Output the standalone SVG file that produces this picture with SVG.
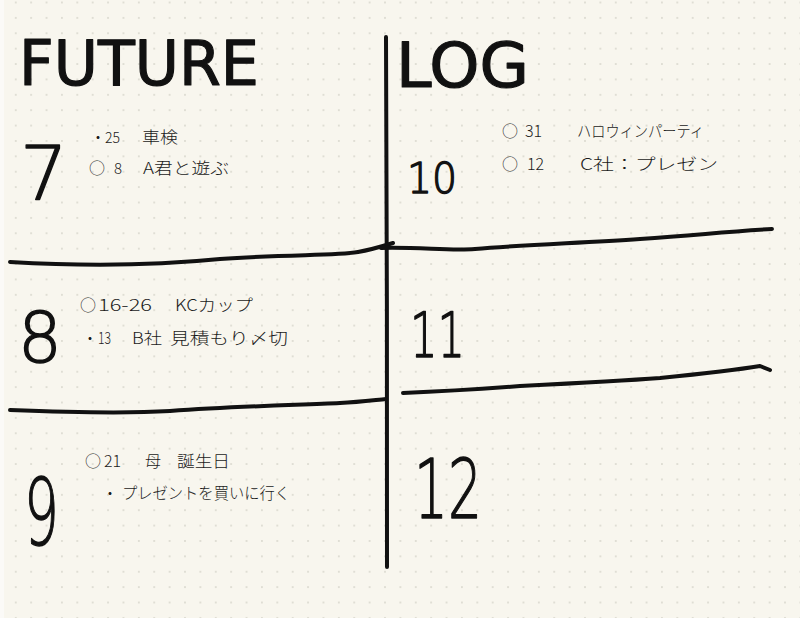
<svg xmlns="http://www.w3.org/2000/svg" width="800" height="618" viewBox="0 0 800 618">
<defs>
<pattern id="dots" patternUnits="userSpaceOnUse" x="-7.3" y="-5.2" width="15.385" height="15.385">
<circle cx="7.69" cy="7.69" r="1" fill="#d9d7cd"/>
</pattern>
<style>
.ttl{font-family:"DejaVu Sans","Liberation Sans",sans-serif;font-size:62px;fill:#111;stroke:#111;stroke-width:1.2;stroke-linejoin:round}
.num{font-family:"DejaVu Sans","Liberation Sans",sans-serif;font-weight:200;fill:#111;stroke:#111;stroke-width:1.4;stroke-linejoin:round}
.t{font-family:"Noto Sans CJK JP","Noto Sans",sans-serif;font-size:16px;font-weight:300;fill:#1a1a1a}
.ln{fill:none;stroke:#111;stroke-width:4;stroke-linecap:round;stroke-linejoin:round}
</style>
</defs>
<rect width="800" height="618" fill="#f8f6ee"/>
<rect width="800" height="618" fill="url(#dots)"/>
<rect width="4" height="618" fill="#fbfaf7"/>

<g id="connectors">
<path class="ln" d="M386,37 C386.5,180 387.5,420 387,567"/>
<path class="ln" d="M10,262 C80,266 150,266 220,259 C290,254 335,256 358,252 C370,250 380,247 393,243"/>
<path class="ln" d="M381,248 C420,247 450,251 475,249 C520,245 580,243 640,239 C700,235 720,232 772,229"/>
<path class="ln" d="M10,410 C60,412 120,414 170,411 C240,406 300,405 340,403 C360,402 375,400 386,399"/>
<path class="ln" d="M403,393 C450,391 480,389 520,386 C580,383 620,381 660,378 C700,374 730,371 760,366 L770,370"/>
</g>

<g id="title-future"><text class="ttl" x="19" y="85" textLength="240" lengthAdjust="spacingAndGlyphs">FUTURE</text></g>
<g id="title-log"><text class="ttl" x="396" y="87" textLength="133" lengthAdjust="spacingAndGlyphs">LOG</text></g>

<g id="month-7">
<text class="num" x="20" y="200" font-size="75">7</text>
<text class="t" y="143"><tspan x="90">・</tspan><tspan x="105" font-size="14">25</tspan><tspan x="142" textLength="36" lengthAdjust="spacingAndGlyphs">車検</tspan></text>
<text class="t" y="174"><tspan x="89">○</tspan><tspan x="114" font-size="15">8</tspan><tspan x="143" textLength="86" lengthAdjust="spacingAndGlyphs">A君と遊ぶ</tspan></text>
</g>

<g id="month-8">
<text class="num" x="18" y="362" font-size="69">8</text>
<text class="t" y="311"><tspan x="80">○</tspan><tspan x="98" textLength="54" lengthAdjust="spacingAndGlyphs">16-26</tspan><tspan x="175" textLength="78" lengthAdjust="spacingAndGlyphs">KCカップ</tspan></text>
<text class="t" y="344"><tspan x="82">・</tspan><tspan x="98" textLength="13" lengthAdjust="spacingAndGlyphs">13</tspan><tspan x="132" textLength="30" lengthAdjust="spacingAndGlyphs">B社</tspan><tspan x="170" textLength="118" lengthAdjust="spacingAndGlyphs">見積もり〆切</tspan></text>
</g>

<g id="month-9">
<text class="num" x="24" y="545" font-size="92" textLength="35" lengthAdjust="spacingAndGlyphs">9</text>
<text class="t" y="467"><tspan x="85">○</tspan><tspan x="104">21</tspan><tspan x="145">母</tspan><tspan x="177" textLength="53" lengthAdjust="spacingAndGlyphs">誕生日</tspan></text>
<text class="t" y="499"><tspan x="102">・</tspan><tspan x="122" textLength="168" lengthAdjust="spacingAndGlyphs">プレゼントを買いに行く</tspan></text>
</g>

<g id="month-10">
<text class="num" x="407" y="193" font-size="43" textLength="50" lengthAdjust="spacingAndGlyphs">10</text>
<text class="t" y="137"><tspan x="502">○</tspan><tspan x="525">31</tspan><tspan x="577" textLength="127" lengthAdjust="spacingAndGlyphs">ハロウィンパーティ</tspan></text>
<text class="t" y="170"><tspan x="502">○</tspan><tspan x="527">12</tspan><tspan x="580" textLength="138" lengthAdjust="spacingAndGlyphs">C社：プレゼン</tspan></text>
</g>

<g id="month-11">
<text class="num" x="410" y="357" font-size="62" textLength="55" lengthAdjust="spacingAndGlyphs">11</text>
</g>

<g id="month-12">
<text class="num" x="414" y="518" font-size="82" textLength="68" lengthAdjust="spacingAndGlyphs">12</text>
</g>
</svg>
